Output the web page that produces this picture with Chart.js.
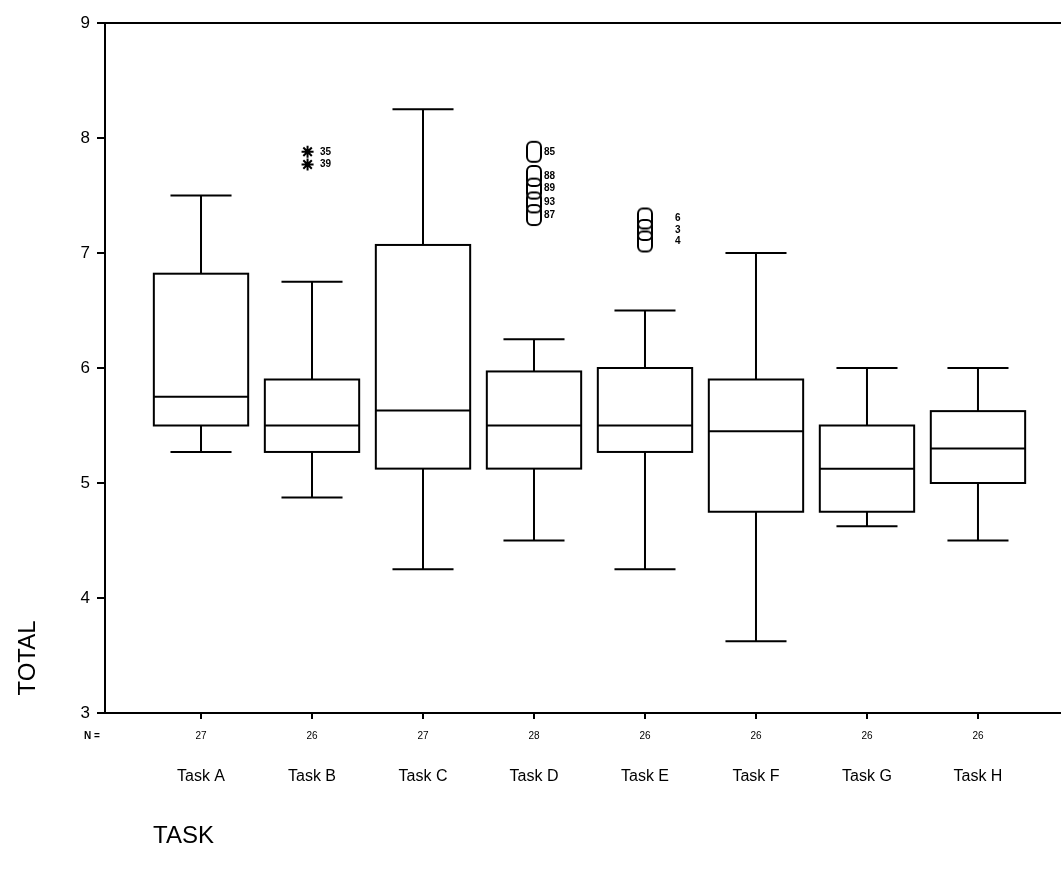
<!DOCTYPE html>
<html>
<head>
<meta charset="utf-8">
<script src="https://cdn.jsdelivr.net/npm/chart.js@4.4.1/dist/chart.umd.min.js"></script>
<style>
  body { margin: 0; background: #fff; }
  #wrap { width: 1061px; height: 872px; }
</style>
</head>
<body>
<div id="wrap"><canvas id="boxplot" width="1061" height="872"></canvas></div>
<script>
// data
const tasks = ["Task A", "Task B", "Task C", "Task D", "Task E", "Task F", "Task G", "Task H"];
const counts = [27, 26, 27, 28, 26, 26, 26, 26];
const whiskLow = [5.27, 4.875, 4.25, 4.5, 4.25, 3.625, 4.625, 4.5];
const q1 = [5.5, 5.27, 5.125, 5.125, 5.27, 4.75, 4.75, 5.0];
const median = [5.75, 5.5, 5.63, 5.5, 5.5, 5.45, 5.125, 5.3];
const q3 = [6.82, 5.9, 7.07, 5.97, 6.0, 5.9, 5.5, 5.625];
const whiskHigh = [7.5, 6.75, 8.25, 6.25, 6.5, 7.0, 6.0, 6.0];
const yTicks = [3, 4, 5, 6, 7, 8, 9];

// outliers (task index, value, case label)
const extremeTask = [1, 1];
const extremeVal = [7.88, 7.77];
const extremeLab = ["35", "39"];
const outTask = [3, 3, 3, 3, 3, 4, 4, 4];
const outVal = [7.88, 7.67, 7.56, 7.44, 7.33, 7.3, 7.2, 7.1];
const outLab = ["85", "88", "89", "93", "87", "6", "3", "4"];

// SPSS style "O" marker
const oMark = document.createElement("canvas");
oMark.width = 18; oMark.height = 24;
(function () {
  const c = oMark.getContext("2d");
  c.strokeStyle = "#000";
  c.lineWidth = 2;
  c.beginPath();
  c.roundRect(2, 2, 14, 20, 5);
  c.stroke();
})();

const boxPlugin = {
  id: "boxes",
  beforeDatasetsDraw(chart) {
    const ctx = chart.ctx;
    const x = chart.scales.x, y = chart.scales.y;
    const area = chart.chartArea;
    ctx.save();
    ctx.strokeStyle = "#000";
    ctx.lineWidth = 2;
    // top frame line
    ctx.beginPath();
    ctx.moveTo(area.left - 8, y.getPixelForValue(9));
    ctx.lineTo(area.right, y.getPixelForValue(9));
    ctx.stroke();
    const boxHalf = 0.425, capHalf = 0.275;
    for (let i = 0; i < tasks.length; i++) {
      const cx = x.getPixelForValue(i);
      const bl = x.getPixelForValue(i - boxHalf), br = x.getPixelForValue(i + boxHalf);
      const cl = x.getPixelForValue(i - capHalf), cr = x.getPixelForValue(i + capHalf);
      const yLo = y.getPixelForValue(whiskLow[i]), yHi = y.getPixelForValue(whiskHigh[i]);
      const y1 = y.getPixelForValue(q1[i]), y3 = y.getPixelForValue(q3[i]);
      const ym = y.getPixelForValue(median[i]);
      ctx.beginPath();
      ctx.moveTo(cx, yHi); ctx.lineTo(cx, y3);
      ctx.moveTo(cx, y1); ctx.lineTo(cx, yLo);
      ctx.moveTo(cl, yHi); ctx.lineTo(cr, yHi);
      ctx.moveTo(cl, yLo); ctx.lineTo(cr, yLo);
      ctx.stroke();
      ctx.fillStyle = "#fff";
      ctx.fillRect(bl, y3, br - bl, y1 - y3);
      ctx.strokeRect(bl, y3, br - bl, y1 - y3);
      ctx.beginPath();
      ctx.moveTo(bl, ym); ctx.lineTo(br, ym);
      ctx.stroke();
    }
    ctx.restore();
  },
  afterDatasetsDraw(chart) {
    const ctx = chart.ctx;
    const x = chart.scales.x, y = chart.scales.y;
    ctx.save();
    ctx.fillStyle = "#000";
    ctx.font = "bold 10px 'Liberation Sans'";
    ctx.textBaseline = "middle";
    ctx.textAlign = "left";
    for (let i = 0; i < extremeVal.length; i++) {
      ctx.fillText(extremeLab[i], x.getPixelForValue(extremeTask[i]) + 8, y.getPixelForValue(extremeVal[i]));
    }
    for (let i = 0; i < outVal.length; i++) {
      const off = outTask[i] === 4 ? 30 : 10;
      ctx.fillText(outLab[i], x.getPixelForValue(outTask[i]) + off, y.getPixelForValue(outVal[i]));
    }
    // N counts under the axis
    ctx.font = "10px 'Liberation Sans'";
    ctx.textAlign = "center";
    const ny = chart.chartArea.bottom + 23;
    for (let i = 0; i < counts.length; i++) {
      ctx.fillText(String(counts[i]), x.getPixelForValue(i), ny);
    }
    ctx.font = "bold 10px 'Liberation Sans'";
    ctx.fillText("N =", 92, ny);
    // axis names
    ctx.font = "24px 'Liberation Sans'";
    ctx.textAlign = "left";
    ctx.fillText("TASK", 153, 836);
    ctx.translate(28, 658);
    ctx.rotate(-Math.PI / 2);
    ctx.textAlign = "center";
    ctx.fillText("TOTAL", 0, 0);
    ctx.restore();
  }
};

new Chart(document.getElementById("boxplot"), {
  type: "scatter",
  data: {
    datasets: [{
      label: "extremes",
      data: extremeVal.map((v, i) => ({ x: extremeTask[i] - 0.04, y: v })),
      pointStyle: "star",
      radius: 6,
      borderColor: "#000",
      borderWidth: 2
    }, {
      label: "outliers",
      data: outVal.map((v, i) => ({ x: outTask[i], y: v })),
      pointStyle: oMark
    }]
  },
  options: {
    responsive: false,
    animation: false,
    layout: { autoPadding: false, padding: { top: 23, right: 0, left: 0, bottom: 0 } },
    plugins: { legend: { display: false }, tooltip: { enabled: false } },
    scales: {
      x: {
        type: "linear",
        min: -0.865,
        max: 7.748,
        afterBuildTicks: s => { s.ticks = tasks.map((t, i) => ({ value: i })); },
        afterFit: s => { s.height = 159; s.paddingLeft = 0; s.paddingRight = 0; },
        ticks: {
          callback: v => tasks[v],
          color: "#000",
          font: { family: "'Liberation Sans'", size: 16 },
          padding: 48,
          maxRotation: 0
        },
        grid: { drawOnChartArea: false, tickLength: 6, color: "#000", lineWidth: 2 },
        border: { color: "#000", width: 2 }
      },
      y: {
        min: 3,
        max: 9,
        afterBuildTicks: s => { s.ticks = yTicks.map(v => ({ value: v })); },
        afterFit: s => { s.width = 105; },
        ticks: {
          color: "#000",
          font: { family: "'Liberation Sans'", size: 17 },
          padding: 7
        },
        grid: { drawOnChartArea: false, tickLength: 8, color: "#000", lineWidth: 2 },
        border: { color: "#000", width: 2 }
      }
    }
  },
  plugins: [boxPlugin]
});
</script>
</body>
</html>
